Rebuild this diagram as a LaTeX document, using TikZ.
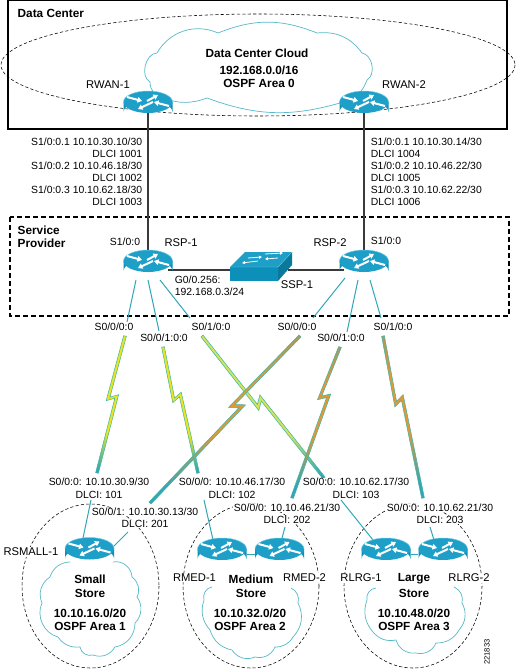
\documentclass[tikz,border=0pt]{standalone}
\usepackage{fontspec}
\setmainfont{Liberation Sans}
\usetikzlibrary{calc,arrows.meta,shapes.geometric}
\definecolor{teal1}{HTML}{2FA6B8}
\definecolor{cloudc}{HTML}{55B9C9}
\definecolor{rbody}{HTML}{0C8FB8}
\definecolor{rtop}{HTML}{1E9FC8}
\definecolor{rrim}{HTML}{6FCBE3}
\definecolor{linkc}{HTML}{3A3A3A}
\definecolor{boltedge}{HTML}{3FB3A8}
\definecolor{byel}{HTML}{E6E622}
\definecolor{blight}{HTML}{CFE55A}
\definecolor{bora}{HTML}{DE9A35}
\definecolor{bgra}{HTML}{A89A60}
\pgfdeclareverticalshading{boltyellow}{100bp}{color(0bp)=(teal1);color(26bp)=(teal1);color(32bp)=(byel!40!teal1);color(40bp)=(byel);color(100bp)=(byel)}
\pgfdeclareverticalshading{boltlight}{100bp}{color(0bp)=(teal1);color(26bp)=(teal1);color(32bp)=(blight!40!teal1);color(40bp)=(blight);color(100bp)=(blight)}
\pgfdeclareverticalshading{boltorange}{100bp}{color(0bp)=(teal1);color(29bp)=(teal1);color(37bp)=(bora!50!teal1);color(46bp)=(bora);color(62bp)=(bora);color(75bp)=(bgra);color(100bp)=(bgra)}
\tikzset{
  lbl/.style={font=\fontsize{10.4}{12}\selectfont,inner sep=0.6pt,text=black},
  clbl/.style={lbl,fill=white},
  rname/.style={font=\fontsize{11.2}{13}\selectfont,inner sep=0.6pt,text=black},
  crname/.style={rname,fill=white},
  bold/.style={font=\fontsize{11.8}{14}\selectfont\bfseries,inner sep=0.5pt,text=black},
  hit/.style={ellipse,minimum width=49pt,minimum height=32pt,inner sep=0pt},
  seg/.style={teal1,line width=1pt},
  wire/.style={linkc,line width=1.2pt},
  cloudline/.style={cloudc,line width=0.7pt},
  area/.style={black,line width=0.55pt,dash pattern=on 3.2pt off 2.2pt},
  rarrow/.style={white,line width=2pt,-{Triangle[length=4.5pt,width=5.5pt]}},
  sarrow/.style={white,line width=0.8pt,-{Triangle[length=3pt,width=3pt]}}
}
\newcommand\routerdraw[1]{%
  \begin{scope}[shift={(#1)}]
    \fill[rbody] (-24.5,-5) -- (-24.5,5) arc[start angle=180,end angle=360,x radius=24.5,y radius=11] -- (24.5,-5) -- cycle;
    \fill[rtop] (0,-5) ellipse[x radius=24.5,y radius=11];
    \draw[rrim,line width=0.5pt] (-24.5,-5) arc[start angle=180,end angle=360,x radius=24.5,y radius=11];
    \draw[rarrow] (-21,-10) -- (-6,-6);
    \draw[rarrow] (-1,-6) -- (10,-12);
    \draw[rarrow] (5,-5) -- (-10,2) ;
    \draw[rarrow] (21,-1) -- (6,-5);
  \end{scope}}
\newcommand\bolt[4]{% from, to, t, shading
  \shadedraw[shading=#4,draw=boltedge,line width=0.5pt,line join=miter]
    ($(#1)!1.4pt!-90:(#2)$)
    -- ($(#1)!#3+0.03!(#2)!5.5pt!-90:(#2)$)
    -- ($(#1)!#3+0.0!(#2)!-2.5pt!-90:(#2)$)
    -- ($(#2)!1.4pt!90:(#1)$)
    -- ($(#2)!1.4pt!-90:(#1)$)
    -- ($(#1)!#3-0.03!(#2)!-5.5pt!-90:(#2)$)
    -- ($(#1)!#3+0.0!(#2)!2.5pt!-90:(#2)$)
    -- ($(#1)!1.4pt!90:(#2)$)
    -- cycle;}
\begin{document}
\begin{tikzpicture}[x=1pt,y=-1pt]
\useasboundingbox (0,0) rectangle (516,669);
\fill[white] (0,0) rectangle (516,669);

% invisible anchors
\node[hit] (rwan1) at (148,107) {};
\node[hit] (rwan2) at (364,107) {};
\node[hit] (rsp1) at (148,266) {};
\node[hit] (rsp2) at (364,266) {};
\node[hit] (rsmall) at (89.5,553.5) {};
\node[hit] (rmed1) at (222,554) {};
\node[hit] (rmed2) at (279.5,554) {};
\node[hit] (rlrg1) at (386,554) {};
\node[hit] (rlrg2) at (443,554) {};
\node[rectangle,minimum width=62pt,minimum height=29pt,inner sep=0pt] (ssp1) at (261,266.5) {};

% boxes
\draw[black,line width=1.1pt] (8,0.5) rectangle (507,129);
\draw[black,line width=1.1pt,dash pattern=on 5pt off 3pt] (10,217) rectangle (509,316);
\draw[area] (258,65) ellipse[x radius=257,y radius=51];

% data centre cloud
\draw[cloudline] (157,53) to[bend left=42] (218,33) to[bend left=22] (317,33)
  to[bend left=30] (362,53) to[bend left=70] (367,80) to[bend left=30] (340,103)
  to[bend left=18] (207,98) to[bend left=20] (163,98) to[bend left=40] (150,82)
  to[bend left=75] (157,53);

% store areas
\draw[area] (90.5,586) ellipse[x radius=68.5,y radius=82];
\draw[area] (251,586) ellipse[x radius=68,y radius=82];
\draw[area] (413,586) ellipse[x radius=69,y radius=82];

% store clouds
\draw[cloudline] (70,562) to[bend right=35] (50,577) to[bend right=40] (42,603)
  to[bend right=50] (58,637) to[bend right=30] (80,647) to[bend right=50] (93,655)
  to[bend right=40] (115,647) to[bend right=40] (135,623) to[bend right=40] (137,597)
  to[bend right=40] (132,577) to[bend right=50] (113,562);
\draw[cloudline] (212,587) to[bend right=50] (204,600) to[bend right=30] (210,630)
  to[bend right=30] (232,650) to[bend right=40] (255,657) to[bend right=40] (275,647)
  to[bend right=30] (293,637) to[bend right=35] (298,603) to[bend right=40] (291,588);
\draw[cloudline] (376,588) to[bend right=50] (367,600) to[bend right=30] (373,632)
  to[bend right=30] (396,640) to[bend right=40] (416,653) to[bend right=40] (436,643)
  to[bend right=30] (459,630) to[bend right=35] (462,603) to[bend right=40] (454,587);

% free ends
\coordinate (a1) at (127,322); \coordinate (a2) at (159,331); \coordinate (a3) at (190,318);
\coordinate (b1) at (313,318); \coordinate (b2) at (347,332); \coordinate (b3) at (381,318);
\coordinate (p1) at (125,336); \coordinate (q1) at (97,473);
\coordinate (p2) at (163,347); \coordinate (q2) at (198,473);
\coordinate (p3) at (202,336); \coordinate (q3) at (324,478);
\coordinate (p4) at (300,336); \coordinate (q4) at (150,503);
\coordinate (p5) at (340,347); \coordinate (q5) at (292,498);
\coordinate (p6) at (383,336); \coordinate (q6) at (423,498);
\coordinate (c1) at (91,500); \coordinate (c2) at (128,532);
\coordinate (c3) at (204,500); \coordinate (c4) at (285,527);
\coordinate (c5) at (341,500); \coordinate (c6) at (430,527);

% wires
\draw[wire] (rwan1.center) -- (rsp1.center);
\draw[wire] (rwan2.center) -- (rsp2.center);
\draw[wire] ($(rsp1)+(20,4)$) -- ($(ssp1)+(-31,3.5)$);
\draw[wire] ($(ssp1)+(27,3.5)$) -- ($(rsp2)+(-20,4)$);

% provider segments
\draw[seg] ($(rsp1)+(-12,14)$) -- (a1);
\draw[seg] ($(rsp1)+(0,14)$) -- (a2);
\draw[seg] ($(rsp1)+(12,14)$) -- (a3);
\draw[seg] ($(rsp2)+(-19,12)$) -- (b1);
\draw[seg] ($(rsp2)+(-6,14)$) -- (b2);
\draw[seg] ($(rsp2)+(6,14)$) -- (b3);
\draw[seg] (c1) -- ($(rsmall)+(-7,-13)$);
\draw[seg] (c2) -- ($(rsmall)+(22,-5)$);
\draw[seg] (c3) -- ($(rmed1)+(-9,-14)$);
\draw[seg] (c4) -- ($(rmed2)+(2,-14)$);
\draw[seg] (c5) -- ($(rlrg1)+(-13,-14)$);
\draw[seg] (c6) -- ($(rlrg2)+(-9,-14)$);
\draw[seg] (rmed1) -- (rmed2);
\draw[seg] (rlrg1) -- (rlrg2);

% bolts
\bolt{p1}{q1}{0.45}{boltyellow}
\bolt{p2}{q2}{0.40}{boltyellow}
\bolt{p3}{q3}{0.47}{boltlight}
\bolt{p4}{q4}{0.42}{boltorange}
\bolt{p5}{q5}{0.33}{boltorange}
\bolt{p6}{q6}{0.40}{boltorange}

% routers
\routerdraw{rwan1}\routerdraw{rwan2}\routerdraw{rsp1}\routerdraw{rsp2}
\routerdraw{rsmall}\routerdraw{rmed1}\routerdraw{rmed2}\routerdraw{rlrg1}\routerdraw{rlrg2}

% switch
\fill[rtop] (230,267) -- (245,252) -- (292,252) -- (278,267) -- cycle;
\fill[rbody] (230,267) rectangle (278,281);
\fill[rbody!85!black] (278,267) -- (292,252) -- (292,265) -- (278,281) -- cycle;
\draw[rrim,line width=0.4pt] (230,267) -- (278,267) -- (292,252);
\draw[sarrow] (265,254) -- (283,253);
\draw[sarrow] (248,258) -- (262,257);
\draw[sarrow] (258,261) -- (242,263);
\draw[sarrow] (278,258) -- (265,259);

% titles
\node[bold,anchor=west] (tdc) at (17,13) {Data Center};
\node[bold] (tdcc) at (257,53) {Data Center Cloud};
\node[bold] (tnet) at (259,70) {192.168.0.0/16};
\node[bold] (tarea) at (259,83) {OSPF Area 0};
\node[bold,anchor=west] (tsp1) at (17,230) {Service};
\node[bold,anchor=west] (tsp2) at (17,243) {Provider};

% router names
\node[rname] (nw1) at (108,85) {RWAN-1};
\node[rname] (nw2) at (404,85) {RWAN-2};
\node[rname] (ns1) at (181,243) {RSP-1};
\node[rname] (ns2) at (330,243) {RSP-2};
\node[rname] (nssp) at (297,285) {SSP-1};
\node[crname] (nsm) at (31,552) {RSMALL-1};
\node[crname] (nm1) at (194.5,578) {RMED-1};
\node[crname] (nm2) at (304.5,578) {RMED-2};
\node[crname] (nl1) at (361,578) {RLRG-1};
\node[crname] (nl2) at (469,578) {RLRG-2};

% RWAN interface labels
\node[lbl,anchor=east] (la) at (143,142) {S1/0:0.1 10.10.30.10/30};
\node[lbl,anchor=east] (lb) at (143,153.5) {DLCI 1001};
\node[lbl,anchor=east] (lc) at (143,165.5) {S1/0:0.2 10.10.46.18/30};
\node[lbl,anchor=east] (ld) at (143,177.5) {DLCI 1002};
\node[lbl,anchor=east] (le) at (143,189.5) {S1/0:0.3 10.10.62.18/30};
\node[lbl,anchor=east] (lf) at (143,201.5) {DLCI 1003};
\node[lbl,anchor=west] (ra) at (370,142) {S1/0:0.1 10.10.30.14/30};
\node[lbl,anchor=west] (rb) at (370,153.5) {DLCI 1004};
\node[lbl,anchor=west] (rc) at (370,165.5) {S1/0:0.2 10.10.46.22/30};
\node[lbl,anchor=west] (rd) at (370,177.5) {DLCI 1005};
\node[lbl,anchor=west] (re) at (370,189.5) {S1/0:0.3 10.10.62.22/30};
\node[lbl,anchor=west] (rf) at (370,201.5) {DLCI 1006};

% provider labels
\node[lbl] (i1) at (125,242) {S1/0:0};
\node[lbl] (i2) at (386,241) {S1/0:0};
\node[lbl,anchor=west] (g1) at (174,280) {G0/0.256:};
\node[lbl,anchor=west] (g2) at (174,292) {192.168.0.3/24};
\node[lbl] (s1) at (114,327) {S0/0/0:0};
\node[lbl] (s2) at (164,338) {S0/0/1:0:0};
\node[lbl] (s3) at (211,327) {S0/1/0:0};
\node[lbl] (s4) at (297,327) {S0/0/0:0};
\node[lbl] (s5) at (341,338) {S0/0/1:0:0};
\node[lbl] (s6) at (393,327) {S0/1/0:0};

% store interface labels
\node[clbl] (d1) at (99,482) {S0/0:0: 10.10.30.9/30};
\node[clbl] (d2) at (99,494.5) {DLCI: 101};
\node[clbl] (d3) at (145,512) {S0/0/1: 10.10.30.13/30};
\node[clbl] (d4) at (145,524) {DLCI: 201};
\node[clbl] (d5) at (232,482) {S0/0/0: 10.10.46.17/30};
\node[clbl] (d6) at (232,494.5) {DLCI: 102};
\node[clbl] (d7) at (287,508) {S0/0/0: 10.10.46.21/30};
\node[clbl] (d8) at (287,520) {DLCI: 202};
\node[clbl] (d9) at (356,482) {S0/0:0: 10.10.62.17/30};
\node[clbl] (d10) at (356,494.5) {DLCI: 103};
\node[clbl] (d11) at (440,508) {S0/0:0: 10.10.62.21/30};
\node[clbl] (d12) at (440,520) {DLCI: 203};

% store names
\node[bold] (m1) at (90,579) {Small};
\node[bold] (m2) at (90,593) {Store};
\node[bold] (m3) at (90,613) {10.10.16.0/20};
\node[bold] (m4) at (90,626) {OSPF Area 1};
\node[bold] (m5) at (251,579) {Medium};
\node[bold] (m6) at (251,593) {Store};
\node[bold] (m7) at (250,613) {10.10.32.0/20};
\node[bold] (m8) at (250,626) {OSPF Area 2};
\node[bold] (m9) at (414,579) {Large};
\node[bold] (m10) at (414,593) {Store};
\node[bold] (m11) at (414,613) {10.10.48.0/20};
\node[bold] (m12) at (414,626) {OSPF Area 3};

\node[font=\fontsize{7.6}{9}\selectfont,rotate=90,inner sep=0pt] (fig) at (487,652) {221833};
\end{tikzpicture}
\end{document}
